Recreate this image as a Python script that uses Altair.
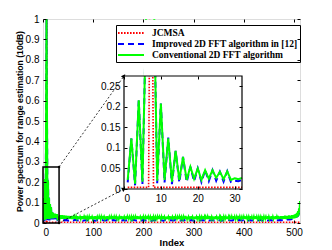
import math
import altair as alt
import pandas as pd

# ---------------- data ----------------
series_names = ["JCMSA", "Improved 2D FFT algorithm in [12]", "Conventional 2D FFT algorithm"]
series_colors = ["#ff0000", "#0000ff", "#00ff00"]

index_values = list(range(1, 513))

conventional_head = [0.022, 0.123, 0.013, 0.216, 0.018, 0.42, 1.00, 0.52, 0.020, 0.208,
                     0.022, 0.123, 0.018, 0.093, 0.022, 0.078, 0.022, 0.054, 0.025, 0.050,
                     0.022, 0.046, 0.025, 0.046, 0.027, 0.042, 0.024, 0.043, 0.022, 0.026,
                     0.024, 0.027]
conventional_tail = [
    0.022,0.038,0.021,0.036,0.023,0.039,0.020,0.035,0.022,0.037,0.021,0.034,0.024,0.036,0.020,0.033,0.022,0.035,0.021,0.032,
    0.023,0.034,0.020,0.031,0.022,0.035,0.019,0.033,0.021,0.030,0.022,0.034,0.020,0.031,0.023,0.033,0.019,0.030,0.021,0.032,
    0.020,0.029,0.022,0.033,0.019,0.031,0.021,0.034,0.020,0.030,0.022,0.036,0.019,0.031,0.021,0.029,0.020,0.032,0.022,0.030,
    0.019,0.031,0.021,0.033,0.020,0.029,0.022,0.032,0.019,0.030,0.021,0.034,0.020,0.031,0.022,0.029,0.019,0.032,0.021,0.030,
    0.020,0.033,0.022,0.030,0.019,0.031,0.021,0.035,0.020,0.029,0.022,0.032,0.019,0.030,0.021,0.033,0.020,0.031,0.022,0.029,
    0.019,0.032,0.021,0.030,0.020,0.034,0.022,0.031,0.019,0.029,0.021,0.033,0.020,0.030,0.022,0.032,0.019,0.031,0.021,0.029,
    0.020,0.031,0.022,0.034,0.019,0.030,0.021,0.032,0.020,0.029,0.022,0.031,0.019,0.033,0.021,0.030,0.020,0.032,0.022,0.029,
    0.019,0.031,0.021,0.030,0.020,0.033,0.022,0.029,0.019,0.032,0.021,0.030,0.020,0.031,0.022,0.034,0.019,0.030,0.021,0.032,
    0.020,0.029,0.022,0.031,0.019,0.033,0.021,0.030,0.020,0.032,0.022,0.029,0.019,0.031,0.021,0.035,0.020,0.030,0.022,0.032,
    0.019,0.029,0.021,0.031,0.020,0.033,0.022,0.030,0.019,0.032,0.021,0.029,0.020,0.031,0.022,0.030,0.019,0.033,0.021,0.029,
    0.020,0.032,0.022,0.030,0.019,0.031,0.021,0.034,0.020,0.029,0.022,0.031,0.019,0.030,0.021,0.032,0.020,0.029,0.022,0.033,
    0.019,0.030,0.021,0.032,0.020,0.029,0.022,0.031,0.019,0.034,0.021,0.030,0.020,0.031,0.022,0.029,0.019,0.032,0.021,0.030,
    0.020,0.033,0.022,0.029,0.019,0.031,0.021,0.030,0.020,0.032,0.022,0.035,0.019,0.030,0.021,0.031,0.020,0.029,0.022,0.032,
    0.019,0.030,0.021,0.033,0.020,0.029,0.022,0.031,0.019,0.030,0.021,0.032,0.020,0.029,0.022,0.034,0.019,0.031,0.021,0.030,
    0.020,0.032,0.022,0.029,0.019,0.031,0.021,0.033,0.020,0.030,0.022,0.029,0.019,0.032,0.021,0.030,0.020,0.031,0.022,0.034,
    0.019,0.030,0.021,0.029,0.020,0.032,0.022,0.031,0.019,0.030,0.021,0.033,0.020,0.029,0.022,0.031,0.019,0.032,0.021,0.030,
    0.020,0.029,0.022,0.033,0.019,0.031,0.021,0.030,0.020,0.034,0.022,0.029,0.019,0.031,0.021,0.032,0.020,0.030,0.022,0.029,
    0.019,0.032,0.021,0.030,0.020,0.031,0.022,0.033,0.019,0.029,0.021,0.031,0.020,0.030,0.022,0.032,0.019,0.035,0.021,0.030,
    0.020,0.031,0.022,0.029,0.019,0.032,0.021,0.030,0.020,0.033,0.022,0.031,0.019,0.029,0.021,0.032,0.020,0.030,0.022,0.031,
    0.019,0.033,0.021,0.029,0.020,0.031,0.022,0.030,0.019,0.032,0.021,0.034,0.020,0.030,0.022,0.031,0.019,0.029,0.021,0.032,
    0.020,0.030,0.022,0.033,0.019,0.031,0.021,0.030,0.020,0.032,0.022,0.029,0.019,0.031,0.021,0.033,0.020,0.030,0.022,0.032,
    0.019,0.031,0.021,0.034,0.020,0.030,0.022,0.032,0.019,0.031,0.021,0.033,0.020,0.030,0.022,0.035,0.019,0.031,0.021,0.032,
    0.020,0.033,0.022,0.031,0.019,0.034,0.021,0.032,0.020,0.036,0.022,0.033,0.019,0.035,0.021,0.034,0.020,0.037,0.022,0.035,
    0.021,0.036,0.023,0.038,0.022,0.037,0.024,0.040,0.023,0.042,0.025,0.045,0.027,0.050,0.030,0.058,0.036,0.072,0.052,0.108,
]
conventional = conventional_head + conventional_tail

improved_head_index = list(range(1, 33))
improved_head = [0.016, 0.123, 0.009, 0.216, 0.012, 0.42, 1.00, 0.52, 0.014, 0.208,
                 0.016, 0.125, 0.012, 0.093, 0.016, 0.078, 0.017, 0.054, 0.019, 0.050,
                 0.017, 0.046, 0.019, 0.046, 0.020, 0.042, 0.018, 0.043, 0.017, 0.020,
                 0.019, 0.022]
improved_tail_index = list(range(36, 513, 4))
improved_tail = [
    0.014,0.012,0.015,0.013,0.011,0.014,0.012,0.016,0.013,0.012,0.015,0.011,0.014,0.013,0.012,0.015,0.013,0.011,0.014,0.012,
    0.015,0.013,0.012,0.014,0.011,0.013,0.015,0.012,0.014,0.013,0.011,0.015,0.012,0.014,0.013,0.012,0.016,0.013,0.011,0.014,
    0.012,0.015,0.013,0.012,0.014,0.011,0.013,0.015,0.012,0.014,0.013,0.011,0.015,0.012,0.014,0.013,0.012,0.015,0.013,0.011,
    0.014,0.012,0.016,0.013,0.012,0.014,0.011,0.013,0.015,0.012,0.014,0.013,0.011,0.015,0.012,0.014,0.013,0.012,0.015,0.013,
    0.011,0.014,0.012,0.015,0.013,0.012,0.014,0.011,0.013,0.015,0.012,0.014,0.013,0.011,0.015,0.012,0.014,0.013,0.012,0.016,
    0.013,0.011,0.014,0.012,0.015,0.013,0.012,0.014,0.013,0.015,0.014,0.016,0.015,0.018,0.017,0.020,0.022,0.028,0.035,0.060,
]

jcmsa_index = [1, 6.67, 7.33, 8.0, 32, 512]
jcmsa_value = [0.004, 0.004, 1.0, 0.004, 0.004, 0.004]

main_x_ticks = [0, 100, 200, 300, 400, 500]
main_y_ticks = [0, 0.1, 0.2, 0.3, 0.4, 0.5, 0.6, 0.7, 0.8, 0.9, 1.0]
inset_x_ticks = [0, 10, 20, 30]
inset_y_ticks = [0, 0.05, 0.1, 0.15, 0.2, 0.25]

main_x_domain = [0, 512]
main_y_domain = [0, 1]
inset_x_domain = [0, 32]
inset_y_domain = [0, 0.275]

assert len(conventional) == len(index_values)
assert len(improved_tail) == len(improved_tail_index)

# ---------------- layout / style ----------------
FONT = "Liberation Serif"
W, H = 257, 204                      # main plot area
IX0, IX1 = 81, 199                   # inset, pixels inside the plot area
IY_TOP, IY_BOT = 57, 170
LABEL_SIZE = 8.5
dashes = [[1.6, 1.4], [6, 4], [30, 0]]
widths = [1.6, 2.0, 2.0]
YT = "Power spectrum for range estimation (10dB)"

red_df = pd.DataFrame({"index": jcmsa_index, "value": jcmsa_value, "series": series_names[0]})
blue_df = pd.DataFrame({"index": improved_head_index + improved_tail_index,
                        "value": improved_head + improved_tail, "series": series_names[1]})
green_df = pd.DataFrame({"index": index_values, "value": conventional, "series": series_names[2]})
frames = [red_df, blue_df, green_df]

color_scale = alt.Scale(domain=series_names, range=series_colors)
dash_scale = alt.Scale(domain=series_names, range=dashes)

legend = alt.Legend(title=None, orient="none", legendX=73, legendY=6, direction="vertical",
                    fillColor="white", strokeColor="black", padding=2,
                    labelFont=FONT, labelFontSize=9.5, labelFontWeight="bold", labelColor="black",
                    symbolType="M-2.6,0H2.6", symbolSize=100, symbolStrokeWidth=2,
                    symbolOffset=7, rowPadding=-2, labelOffset=15, labelLimit=400)

# ---------------- main panel ----------------
main_xs = alt.Scale(domain=main_x_domain, nice=False, zero=False)
main_ys = alt.Scale(domain=main_y_domain, nice=False)
main_x_axis = alt.Axis(values=main_x_ticks, ticks=False, domain=False, labelPadding=4,
                       titleY=19, titleBaseline="middle", titleFontSize=9.5, grid=False)
main_y_axis = alt.Axis(values=main_y_ticks, ticks=False, domain=False, labelPadding=4,
                       format="~g", titleX=-19, titleY=H / 2, titleBaseline="bottom",
                       titleAngle=270, titleAlign="center", titleFontSize=8.6, grid=False)


def mx(field):
    return alt.X(field, scale=main_xs, axis=main_x_axis, title="Index")


def my(field):
    return alt.Y(field, scale=main_ys, axis=main_y_axis, title=YT)


main_lines = []
for i, df in enumerate(frames):
    main_lines.append(
        alt.Chart(df).mark_line(strokeWidth=widths[i], clip=True).encode(
            x=mx("index:Q"), y=my("value:Q"),
            color=alt.Color("series:N", scale=color_scale, legend=legend),
            strokeDash=alt.StrokeDash("series:N", scale=dash_scale, legend=legend),
        )
    )

zoom_df = pd.DataFrame({"x0": [inset_x_domain[0]], "x1": [inset_x_domain[1]],
                        "y0": [inset_y_domain[0]], "y1": [inset_y_domain[1]]})
zoom_box = alt.Chart(zoom_df).mark_rect(fillOpacity=0, stroke="black", strokeWidth=1.5).encode(
    x=mx("x0:Q"), x2="x1:Q", y=my("y0:Q"), y2="y1:Q")

# inset corners expressed in main data units
ix_main = IX0 / W * main_x_domain[1]
iy_top_main = 1 - IY_TOP / H
iy_bot_main = 1 - IY_BOT / H
zx, zy_top, zy_bot = inset_x_domain[1], inset_y_domain[1], inset_y_domain[0]


def px_angle(x0, y0, x1, y1):
    dx = (x1 - x0) / main_x_domain[1] * W
    dy = (y1 - y0) / main_y_domain[1] * H
    return math.degrees(math.atan2(dx, dy))


arrow_df = pd.DataFrame({
    "xa": [zx, zx], "ya": [zy_top, zy_bot],
    "xb": [ix_main, ix_main], "yb": [iy_top_main, iy_bot_main],
    "ang": [px_angle(zx, zy_top, ix_main, iy_top_main), px_angle(zx, zy_bot, ix_main, iy_bot_main)],
})
arrows = alt.Chart(arrow_df).mark_rule(color="black", strokeWidth=0.8, strokeDash=[2, 2]).encode(
    x=mx("xa:Q"), x2="xb:Q", y=my("ya:Q"), y2="yb:Q")
heads = alt.Chart(arrow_df).mark_point(shape="triangle-up", filled=True, color="black",
                                       size=22, opacity=1).encode(
    x=mx("xb:Q"), y=my("yb:Q"), angle=alt.Angle("ang:Q", scale=None))
dots = alt.Chart(arrow_df).mark_point(shape="circle", filled=True, color="black",
                                      size=6, opacity=1).encode(x=mx("xa:Q"), y=my("ya:Q"))

main_data = alt.layer(*main_lines, zoom_box, arrows, heads, dots)


def tick_layer(df, xs, ys, xt, yt, x_orient, x_off, y_orient, y_off):
    return alt.Chart(df).mark_point(opacity=0).encode(
        x=alt.X("index:Q", scale=xs, title=None,
                axis=alt.Axis(orient=x_orient, offset=x_off, values=xt, labels=False,
                              domain=False, grid=False, tickSize=3, tickColor="black",
                              tickWidth=1, zindex=2, title=None)),
        y=alt.Y("value:Q", scale=ys, title=None,
                axis=alt.Axis(orient=y_orient, offset=y_off, values=yt, labels=False,
                              domain=False, grid=False, tickSize=3, tickColor="black",
                              tickWidth=1, zindex=2, title=None)),
    )


main_ticks_a = tick_layer(green_df, main_xs, main_ys, main_x_ticks, main_y_ticks,
                          "top", -H, "right", -W)
main_ticks_b = tick_layer(green_df, main_xs, main_ys, main_x_ticks, main_y_ticks,
                          "bottom", -H, "left", -W)

# ---------------- inset panel (own scales, placed by pixel range) ----------------
in_xs = alt.Scale(domain=inset_x_domain, range=[IX0, IX1], nice=False, zero=False)
in_ys = alt.Scale(domain=inset_y_domain, range=[IY_BOT, IY_TOP], nice=False)
in_x_axis = alt.Axis(orient="bottom", offset=IY_BOT - H, values=inset_x_ticks, ticks=False,
                     domain=False, labelPadding=4, grid=False, title=None, zindex=1)
in_y_axis = alt.Axis(orient="left", offset=-IX0, values=inset_y_ticks, ticks=False,
                     domain=False, labelPadding=4, format="~g", grid=False, title=None,
                     zindex=1)


def ix(field):
    return alt.X(field, scale=in_xs, axis=in_x_axis, title=None)


def iy(field):
    return alt.Y(field, scale=in_ys, axis=in_y_axis, title=None)


inset_bg = alt.Chart(zoom_df).mark_rect(fill="white").encode(
    x=ix("x0:Q"), x2="x1:Q", y=iy("y0:Q"), y2="y1:Q")
inset_lines = []
for i, df in enumerate(frames):
    inset_lines.append(
        alt.Chart(df).transform_filter(alt.datum["index"] <= inset_x_domain[1])
        .mark_line(strokeWidth=widths[i], clip=True, color=series_colors[i],
                   strokeDash=dashes[i]).encode(x=ix("index:Q"), y=iy("value:Q"))
    )
# white mask over the part of the peak that runs above the inset frame
mask_df = pd.DataFrame({"x0": [5.3], "x1": [9.3], "y0": [inset_y_domain[1]],
                        "y1": [inset_y_domain[1] * (1 + (IY_TOP - 0.8) / (IY_BOT - IY_TOP))]})
inset_mask = alt.Chart(mask_df).mark_rect(fill="white", clip=True).encode(
    x=ix("x0:Q"), x2="x1:Q", y=iy("y0:Q"), y2="y1:Q")
inset_frame = alt.Chart(zoom_df).mark_rect(fillOpacity=0, stroke="black", strokeWidth=1.2).encode(
    x=ix("x0:Q"), x2="x1:Q", y=iy("y0:Q"), y2="y1:Q")
inset_data = alt.layer(inset_bg, *inset_lines, inset_mask, inset_frame)

inset_ticks_a = tick_layer(green_df, in_xs, in_ys, inset_x_ticks, inset_y_ticks,
                           "top", -IY_BOT, "right", IX0 - W)
inset_ticks_b = tick_layer(green_df, in_xs, in_ys, inset_x_ticks, inset_y_ticks,
                           "bottom", IY_TOP - H, "left", -IX1)

chart = alt.layer(main_data, main_ticks_a, main_ticks_b,
                  inset_data, inset_ticks_a, inset_ticks_b).resolve_scale(
    x="independent", y="independent"
).properties(
    width=W, height=H,
    autosize=alt.AutoSizeParams(type="none"),
    padding={"left": 35, "top": 11, "right": 24, "bottom": 24},
).configure_view(stroke="black", strokeWidth=1.2).configure_axis(
    labelFont=FONT, labelFontSize=LABEL_SIZE, labelFontWeight="bold", labelColor="black",
    titleFont=FONT, titleFontWeight="bold", titleColor="black",
).configure(background="white")

chart.save("out.html", embed_options={"renderer": "svg", "actions": False})
